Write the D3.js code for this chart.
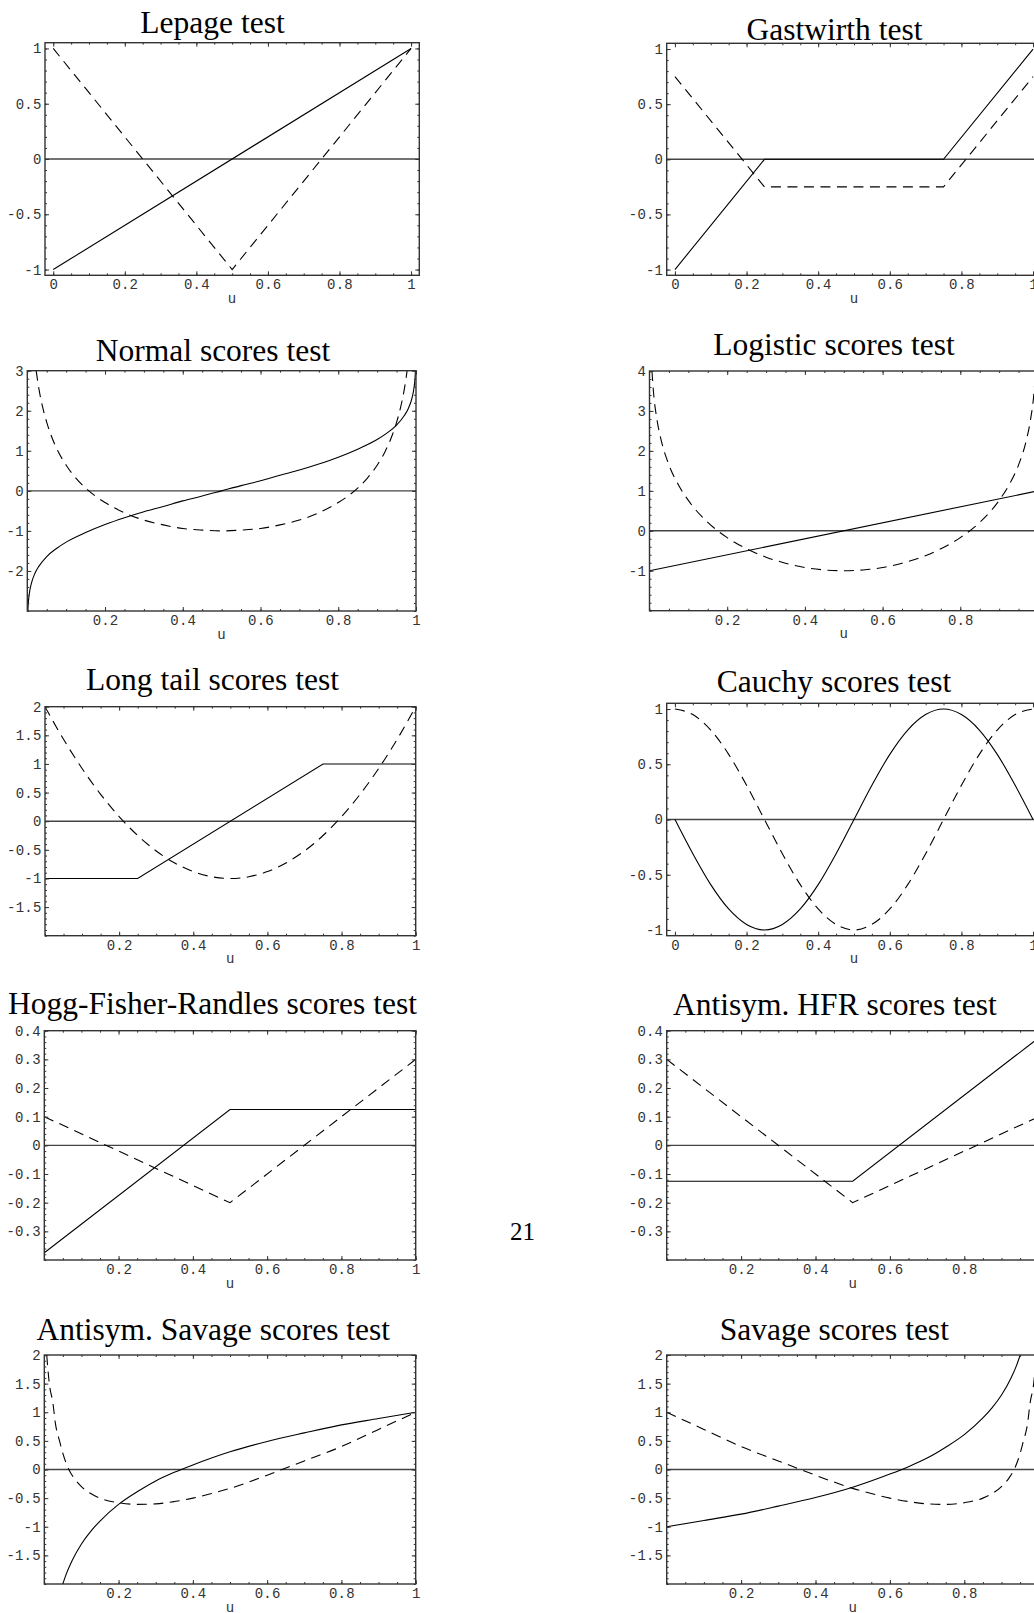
<!DOCTYPE html>
<html>
<head>
<meta charset="utf-8">
<script src="https://cdn.jsdelivr.net/npm/d3@7"></script>
<style>
  html, body { margin: 0; padding: 0; background: #fff; overflow: hidden; }
  svg { display: block; }
  .title { font-family: "Liberation Serif", "Times New Roman", serif; font-size: 31.5px; fill: #000; }
  .ax text, .xlab { font-family: "Liberation Mono", "Courier New", monospace; font-size: 14px; letter-spacing: 0.2px; fill: #333; }
  .pagenum { font-family: "Liberation Serif", "Times New Roman", serif; font-size: 25px; fill: #000; }
</style>
</head>
<body>
<svg id="chart" width="1034" height="1613"></svg>
<script>
// titles of the ten panels, in reading order
const titles = [
  'Lepage test', 'Gastwirth test',
  'Normal scores test', 'Logistic scores test',
  'Long tail scores test', 'Cauchy scores test',
  'Hogg-Fisher-Randles scores test', 'Antisym. HFR scores test',
  'Antisym. Savage scores test', 'Savage scores test'
];

// tick labels
const xTicksAll   = [0, 0.2, 0.4, 0.6, 0.8, 1];
const xTicksInner = [0.2, 0.4, 0.6, 0.8, 1];
const yTicksUnit  = [-1, -0.5, 0, 0.5, 1];
const yTicksNormal = [-2, -1, 0, 1, 2, 3];
const yTicksLogistic = [-1, 0, 1, 2, 3, 4];
const yTicksTwo   = [-1.5, -1, -0.5, 0, 0.5, 1, 1.5, 2];
const yTicksHFR   = [-0.3, -0.2, -0.1, 0, 0.1, 0.2, 0.3, 0.4];

// curves as [u, score] pairs
const lepageSolid  = [[0, -1], [1, 1]];
const lepageDashed = [[0, 1], [0.5, -1], [1, 1]];

const gastSolid  = [[0, -1], [0.25, 0], [0.75, 0], [1, 1]];
const gastDashed = [[0, 0.75], [0.25, -0.25], [0.75, -0.25], [1, 0.75]];

const normalSolid = [
  [0.0014, -3], [0.0025, -2.81], [0.005, -2.58], [0.01, -2.33], [0.02, -2.05],
  [0.03, -1.88], [0.05, -1.64], [0.075, -1.44], [0.1, -1.28], [0.15, -1.04],
  [0.2, -0.84], [0.25, -0.67], [0.3, -0.52], [0.35, -0.39], [0.4, -0.25],
  [0.45, -0.13], [0.5, 0], [0.55, 0.13], [0.6, 0.25], [0.65, 0.39], [0.7, 0.52],
  [0.75, 0.67], [0.8, 0.84], [0.85, 1.04], [0.9, 1.28], [0.925, 1.44],
  [0.95, 1.64], [0.97, 1.88], [0.98, 2.05], [0.99, 2.33], [0.995, 2.58],
  [0.9975, 2.81], [0.9986, 3]
];
const normalDashed = [
  [0.0228, 3], [0.03, 2.54], [0.04, 2.07], [0.05, 1.71], [0.06, 1.42],
  [0.08, 0.97], [0.1, 0.64], [0.125, 0.32], [0.15, 0.07], [0.175, -0.13],
  [0.2, -0.29], [0.25, -0.55], [0.3, -0.73], [0.35, -0.85], [0.4, -0.94],
  [0.45, -0.98], [0.5, -1], [0.55, -0.98], [0.6, -0.94], [0.65, -0.85],
  [0.7, -0.73], [0.75, -0.55], [0.8, -0.29], [0.825, -0.13], [0.85, 0.07],
  [0.875, 0.32], [0.9, 0.64], [0.92, 0.97], [0.94, 1.42], [0.95, 1.71],
  [0.96, 2.07], [0.97, 2.54], [0.9772, 3]
];

const logisticSolid = [[0, -1], [1, 1]];
const logisticDashed = [
  [0.0063, 4], [0.01, 3.5], [0.02, 2.74], [0.03, 2.27], [0.05, 1.65],
  [0.075, 1.14], [0.1, 0.76], [0.15, 0.21], [0.2, -0.17], [0.25, -0.45],
  [0.3, -0.66], [0.35, -0.81], [0.4, -0.92], [0.45, -0.98], [0.5, -1],
  [0.55, -0.98], [0.6, -0.92], [0.65, -0.81], [0.7, -0.66], [0.75, -0.45],
  [0.8, -0.17], [0.85, 0.21], [0.9, 0.76], [0.925, 1.14], [0.95, 1.65],
  [0.97, 2.27], [0.98, 2.74], [0.99, 3.5], [0.9937, 4]
];

const longSolid  = [[0, -1], [0.25, -1], [0.75, 1], [1, 1]];
const longDashed = [
  [0, 2], [0.05, 1.43], [0.1, 0.92], [0.15, 0.47], [0.2, 0.08], [0.25, -0.25],
  [0.3, -0.52], [0.35, -0.73], [0.4, -0.88], [0.45, -0.97], [0.5, -1],
  [0.55, -0.97], [0.6, -0.88], [0.65, -0.73], [0.7, -0.52], [0.75, -0.25],
  [0.8, 0.08], [0.85, 0.47], [0.9, 0.92], [0.95, 1.43], [1, 2]
];

const cauchySolid = [
  [0, 0], [0.05, -0.31], [0.1, -0.59], [0.15, -0.81], [0.2, -0.95], [0.25, -1],
  [0.3, -0.95], [0.35, -0.81], [0.4, -0.59], [0.45, -0.31], [0.5, 0],
  [0.55, 0.31], [0.6, 0.59], [0.65, 0.81], [0.7, 0.95], [0.75, 1],
  [0.8, 0.95], [0.85, 0.81], [0.9, 0.59], [0.95, 0.31], [1, 0]
];
const cauchyDashed = [
  [0, 1], [0.05, 0.95], [0.1, 0.81], [0.15, 0.59], [0.2, 0.31], [0.25, 0],
  [0.3, -0.31], [0.35, -0.59], [0.4, -0.81], [0.45, -0.95], [0.5, -1],
  [0.55, -0.95], [0.6, -0.81], [0.65, -0.59], [0.7, -0.31], [0.75, 0],
  [0.8, 0.31], [0.85, 0.59], [0.9, 0.81], [0.95, 0.95], [1, 1]
];

const hfrSolid  = [[0, -0.375], [0.5, 0.125], [1, 0.125]];
const hfrDashed = [[0, 0.1], [0.5, -0.2], [1, 0.3]];

const ahfrSolid  = [[0, -0.125], [0.5, -0.125], [1, 0.375]];
const ahfrDashed = [[0, 0.3], [0.5, -0.2], [1, 0.1]];

const asavSolid = [
  [0.0498, -2], [0.06, -1.81], [0.075, -1.59], [0.1, -1.3], [0.125, -1.08],
  [0.15, -0.9], [0.2, -0.61], [0.25, -0.39], [0.3, -0.2], [0.35, -0.05],
  [0.4, 0.08], [0.5, 0.31], [0.6, 0.49], [0.7, 0.64], [0.8, 0.78],
  [0.9, 0.89], [1, 1]
];
const asavDashed = [
  [0.0065, 2], [0.0135, 1.5], [0.0234, 1.15], [0.03, 0.8], [0.041, 0.5],
  [0.05, 0.28], [0.066, 0], [0.08, -0.15], [0.1, -0.3], [0.125, -0.42],
  [0.15, -0.5], [0.2, -0.58], [0.25, -0.61], [0.3, -0.6], [0.35, -0.56],
  [0.4, -0.5], [0.45, -0.42], [0.5, -0.33], [0.55, -0.22], [0.6, -0.1],
  [0.64, 0], [0.7, 0.15], [0.8, 0.4], [0.9, 0.7], [1, 1]
];

const savSolid = [
  [0, -1], [0.1, -0.89], [0.2, -0.78], [0.3, -0.64], [0.4, -0.49],
  [0.5, -0.31], [0.6, -0.08], [0.65, 0.05], [0.7, 0.2], [0.75, 0.39],
  [0.8, 0.61], [0.85, 0.9], [0.875, 1.08], [0.9, 1.3], [0.925, 1.59],
  [0.94, 1.81], [0.9502, 2]
];
const savDashed = [
  [0, 1], [0.1, 0.7], [0.2, 0.4], [0.3, 0.15], [0.36, 0], [0.4, -0.1],
  [0.45, -0.22], [0.5, -0.33], [0.55, -0.42], [0.6, -0.5], [0.65, -0.56],
  [0.7, -0.6], [0.75, -0.61], [0.8, -0.58], [0.85, -0.5], [0.875, -0.42],
  [0.9, -0.3], [0.92, -0.15], [0.934, 0], [0.95, 0.28], [0.959, 0.5],
  [0.97, 0.8], [0.9766, 1.15], [0.9865, 1.5], [0.9935, 2]
];

const svg = d3.select('#chart');
const X_PAD = [-0.023, 1.023];
const Y_PAD = [-1.052, 1.052];

// layout: frame box [left, right, top, bottom] and title anchor
// ss / ds: smooth the solid / dashed curve
const panels = [
  { solid: lepageSolid, dashed: lepageDashed, ss: false, ds: false, xd: X_PAD, yd: Y_PAD,
    xt: xTicksAll, yt: yTicksUnit, ym: 0.1, box: [45, 419.3, 42.7, 275.3], tt: [212.5, 33] },
  { solid: gastSolid, dashed: gastDashed, ss: false, ds: false, xd: X_PAD, yd: Y_PAD,
    xt: xTicksAll, yt: yTicksUnit, ym: 0.1, box: [666.7, 1041.3, 43.3, 275.3], tt: [834.5, 40] },
  { solid: normalSolid, dashed: normalDashed, ss: true, ds: true, xd: [0, 1], yd: [-3, 3],
    xt: xTicksInner, yt: yTicksNormal, ym: 0.2, box: [27.3, 416, 370.7, 611], tt: [213, 361] },
  { solid: logisticSolid, dashed: logisticDashed, ss: false, ds: true, xd: [0, 1], yd: [-2, 4],
    xt: xTicksInner, yt: yTicksLogistic, ym: 0.2, box: [649.5, 1038, 371, 610.7], tt: [834, 355] },
  { solid: longSolid, dashed: longDashed, ss: false, ds: true, xd: [0, 1], yd: [-2, 2],
    xt: xTicksInner, yt: yTicksTwo, ym: 0.1, box: [45, 415.7, 706.7, 935.7], tt: [212.5, 690] },
  { solid: cauchySolid, dashed: cauchyDashed, ss: true, ds: true, xd: X_PAD, yd: Y_PAD,
    xt: xTicksAll, yt: yTicksUnit, ym: 0.1, box: [666.7, 1041.3, 703.3, 935.7], tt: [834, 692] },
  { solid: hfrSolid, dashed: hfrDashed, ss: false, ds: false, xd: [0, 1], yd: [-0.4, 0.4],
    xt: xTicksInner, yt: yTicksHFR, ym: 0.02, box: [44.3, 415.7, 1030.7, 1260], tt: [212.5, 1014] },
  { solid: ahfrSolid, dashed: ahfrDashed, ss: false, ds: false, xd: [0, 1], yd: [-0.4, 0.4],
    xt: xTicksInner, yt: yTicksHFR, ym: 0.02, box: [666.7, 1038.7, 1030.7, 1260], tt: [835, 1015] },
  { solid: asavSolid, dashed: asavDashed, ss: true, ds: true, xd: [0, 1], yd: [-2, 2],
    xt: xTicksInner, yt: yTicksTwo, ym: 0.1, box: [44.3, 415.7, 1355, 1584], tt: [213.3, 1340] },
  { solid: savSolid, dashed: savDashed, ss: true, ds: true, xd: [0, 1], yd: [-2, 2],
    xt: xTicksInner, yt: yTicksTwo, ym: 0.1, box: [666.7, 1038.7, 1355, 1584], tt: [834.3, 1339.5] }
];

function minorTicks(domain, step) {
  const i0 = Math.ceil(domain[0] / step - 1e-9);
  const i1 = Math.floor(domain[1] / step + 1e-9);
  return d3.range(i0, i1 + 1).map(i => +(i * step).toFixed(4));
}

const fmt = v => String(v);

panels.forEach((p, i) => {
  const [L, R, T, B] = p.box;
  const x = d3.scaleLinear().domain(p.xd).range([L, R]);
  const y = d3.scaleLinear().domain(p.yd).range([B, T]);
  const g = svg.append('g');

  g.append('text')
    .attr('class', 'title')
    .attr('x', p.tt[0])
    .attr('y', p.tt[1])
    .attr('text-anchor', 'middle')
    .text(titles[i]);

  const clipId = 'clip' + i;
  svg.append('clipPath').attr('id', clipId)
    .append('rect')
    .attr('x', L).attr('y', T)
    .attr('width', R - L).attr('height', B - T);

  const plot = g.append('g').attr('clip-path', `url(#${clipId})`);

  // zero axis
  plot.append('line')
    .attr('x1', L).attr('x2', R)
    .attr('y1', y(0)).attr('y2', y(0))
    .attr('stroke', '#444')
    .attr('stroke-width', 1.4);

  const lineFor = smooth => d3.line()
    .x(d => x(d[0]))
    .y(d => y(d[1]))
    .curve(smooth ? d3.curveMonotoneX : d3.curveLinear);

  plot.append('path')
    .attr('d', lineFor(p.ds)(p.dashed))
    .attr('fill', 'none')
    .attr('stroke', '#000')
    .attr('stroke-width', 1.1)
    .attr('stroke-dasharray', '10,6.5');

  plot.append('path')
    .attr('d', lineFor(p.ss)(p.solid))
    .attr('fill', 'none')
    .attr('stroke', '#000')
    .attr('stroke-width', 1.1);

  // axes: labelled left/bottom, bare ticks top/right, all pointing inward
  const xMinor = minorTicks(p.xd, 0.05);
  const yMinor = minorTicks(p.yd, p.ym);
  const axes = g.append('g').attr('class', 'ax').attr('color', '#333');

  const addAxis = (maker, scale, values, size, labels, tr) => {
    const a = maker(scale).tickValues(values).tickSizeInner(-size).tickSizeOuter(0);
    if (labels) a.tickPadding(labels === 'x' ? 4 : 3.5).tickFormat(fmt);
    else a.tickFormat('');
    axes.append('g')
      .attr('transform', tr)
      .call(a)
      .call(s => s.select('.domain').remove());
  };

  addAxis(d3.axisBottom, x, xMinor, 2, null, `translate(0,${B})`);
  addAxis(d3.axisBottom, x, p.xt, 4, 'x', `translate(0,${B})`);
  addAxis(d3.axisTop, x, xMinor, 2, null, `translate(0,${T})`);
  addAxis(d3.axisTop, x, p.xt, 4, null, `translate(0,${T})`);
  addAxis(d3.axisLeft, y, yMinor, 2, null, `translate(${L},0)`);
  addAxis(d3.axisLeft, y, p.yt, 4, 'y', `translate(${L},0)`);
  addAxis(d3.axisRight, y, yMinor, 2, null, `translate(${R},0)`);
  addAxis(d3.axisRight, y, p.yt, 4, null, `translate(${R},0)`);

  g.append('rect')
    .attr('x', L).attr('y', T)
    .attr('width', R - L).attr('height', B - T)
    .attr('fill', 'none')
    .attr('stroke', '#333')
    .attr('stroke-width', 1.4);

  g.append('text')
    .attr('class', 'xlab')
    .attr('x', (L + R) / 2)
    .attr('y', B + 27.5)
    .attr('text-anchor', 'middle')
    .text('u');
});

svg.append('text')
  .attr('class', 'pagenum')
  .attr('x', 522.5)
  .attr('y', 1240)
  .attr('text-anchor', 'middle')
  .text('21');
</script>
</body>
</html>
